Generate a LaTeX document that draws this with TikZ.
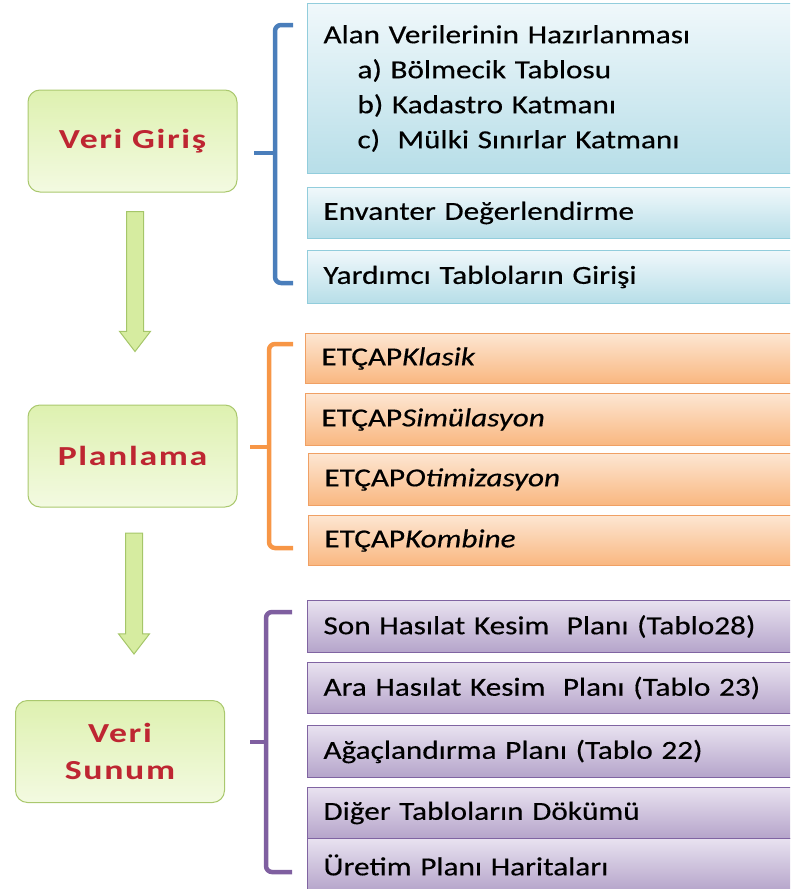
\documentclass[tikz,border=0pt]{standalone}
\usepackage{fontspec}
\setmainfont{Carlito}[FakeStretch=1.2,FakeBold=0.4]
\newfontfamily\labfont{Carlito}[FakeStretch=1.3,LetterSpace=6]
\usetikzlibrary{shapes.arrows}
\definecolor{stagetop}{RGB}{222,241,176}
\definecolor{stagebot}{RGB}{243,250,225}
\definecolor{stageline}{RGB}{170,200,110}
\definecolor{stagered}{RGB}{190,38,50}
\definecolor{flowfill}{RGB}{214,236,160}
\definecolor{flowline}{RGB}{165,198,105}
\definecolor{intop}{RGB}{240,248,251}
\definecolor{inbot}{RGB}{183,222,232}
\definecolor{inline}{RGB}{146,205,220}
\definecolor{inbrace}{RGB}{74,126,187}
\definecolor{plantop}{RGB}{253,230,210}
\definecolor{planbot}{RGB}{249,183,128}
\definecolor{planline}{RGB}{240,160,100}
\definecolor{planbrace}{RGB}{247,150,70}
\definecolor{outtop}{RGB}{232,226,240}
\definecolor{outbot}{RGB}{181,164,202}
\definecolor{outline}{RGB}{128,100,162}
\definecolor{outbrace}{RGB}{127,95,160}

\begin{document}
\begin{tikzpicture}[x=1pt, y=-1pt,
    every node/.style={font=\fontsize{26}{35}\selectfont},
    stage/.style={draw=stageline, line width=1pt, rounded corners=12pt, top color=stagetop, bottom color=stagebot,
      minimum width=209pt, minimum height=102pt, text=stagered, align=center,
      font=\labfont\bfseries\fontsize{27.5}{37}\selectfont},
    flow/.style={single arrow, draw=flowline, line width=1pt, fill=flowfill, shape border rotate=270,
      inner sep=8pt, single arrow head extend=7pt, single arrow tip angle=75},
    item/.style={anchor=north west, line width=1pt, text width=460pt, inner xsep=16pt, inner ysep=0pt, align=left},
    inbox/.style={item, draw=inline, top color=intop, bottom color=inbot},
    planbox/.style={item, draw=planline, top color=plantop, bottom color=planbot},
    outbox/.style={item, draw=outline, top color=outtop, bottom color=outbot},
    brace/.style={line width=4.5pt, rounded corners=6pt}]
  \clip (0,0) rectangle (790,889);

  % Stages
  \node[stage] (giris) at (132.5,141) {Veri Giriş};
  \node[stage] (plan) at (132.5,456) {Planlama};
  \node[stage] (sunum) at (120,751.5) {Veri\\Sunum};
  \node[flow, minimum height=140pt] (ok1) at (135,276) {};
  \node[flow, minimum height=121pt] (ok2) at (134,588) {};

  % Data input
  \node[inbox, minimum height=170pt] (alan) at (307,3) {Alan Verilerinin Hazırlanması\\
    \hspace*{34pt}a) Bölmecik Tablosu\\
    \hspace*{34pt}b) Kadastro Katmanı\\
    \hspace*{34pt}c)~ Mülki Sınırlar Katmanı};
  \node[inbox, minimum height=51pt] (envanter) at (307,187) {Envanter Değerlendirme};
  \node[inbox, minimum height=53pt] (yardim) at (307,250) {Yardımcı Tabloların Girişi};

  % Planning
  \node[planbox, minimum height=50pt] (klasik) at (305,333) {ETÇAP\textit{Klasik}};
  \node[planbox, minimum height=52pt] (simul) at (305,393) {ETÇAP\textit{Simülasyon}};
  \node[planbox, minimum height=52pt] (otim) at (308,453) {ETÇAP\textit{Otimizasyon}};
  \node[planbox, minimum height=50pt] (kombi) at (308,515) {ETÇAP\textit{Kombine}};

  % Output
  \node[outbox, minimum height=52pt] (son) at (307,600) {Son Hasılat Kesim~ Planı (Tablo28)};
  \node[outbox, minimum height=51pt] (ara) at (307,662) {Ara Hasılat Kesim~ Planı (Tablo 23)};
  \node[outbox, minimum height=52pt] (agac) at (307,725) {Ağaçlandırma Planı (Tablo 22)};
  \node[outbox, minimum height=51pt] (diger) at (307,787) {Diğer Tabloların Dökümü};
  \node[outbox, minimum height=53pt] (uretim) at (307,838) {Üretim Planı Haritaları};

  % Braces
  \coordinate (intop) at (293,25);
  \coordinate (inmid) at (275,153);
  \coordinate (intip) at (254,153);
  \coordinate (inbot) at (293,283);
  \draw[brace, draw=inbrace] (intop) -| (inmid) |- (inbot);
  \draw[brace, draw=inbrace] (inmid) -- (intip);

  \coordinate (plantop) at (293,344);
  \coordinate (planmid) at (269,447);
  \coordinate (plantip) at (250,447);
  \coordinate (planbot) at (293,548);
  \draw[brace, draw=planbrace] (plantop) -| (planmid) |- (planbot);
  \draw[brace, draw=planbrace] (planmid) -- (plantip);

  \coordinate (outtop) at (292,612);
  \coordinate (outmid) at (266,742);
  \coordinate (outtip) at (250,742);
  \coordinate (outbot) at (292,872);
  \draw[brace, draw=outbrace] (outtop) -| (outmid) |- (outbot);
  \draw[brace, draw=outbrace] (outmid) -- (outtip);
\end{tikzpicture}
\end{document}
